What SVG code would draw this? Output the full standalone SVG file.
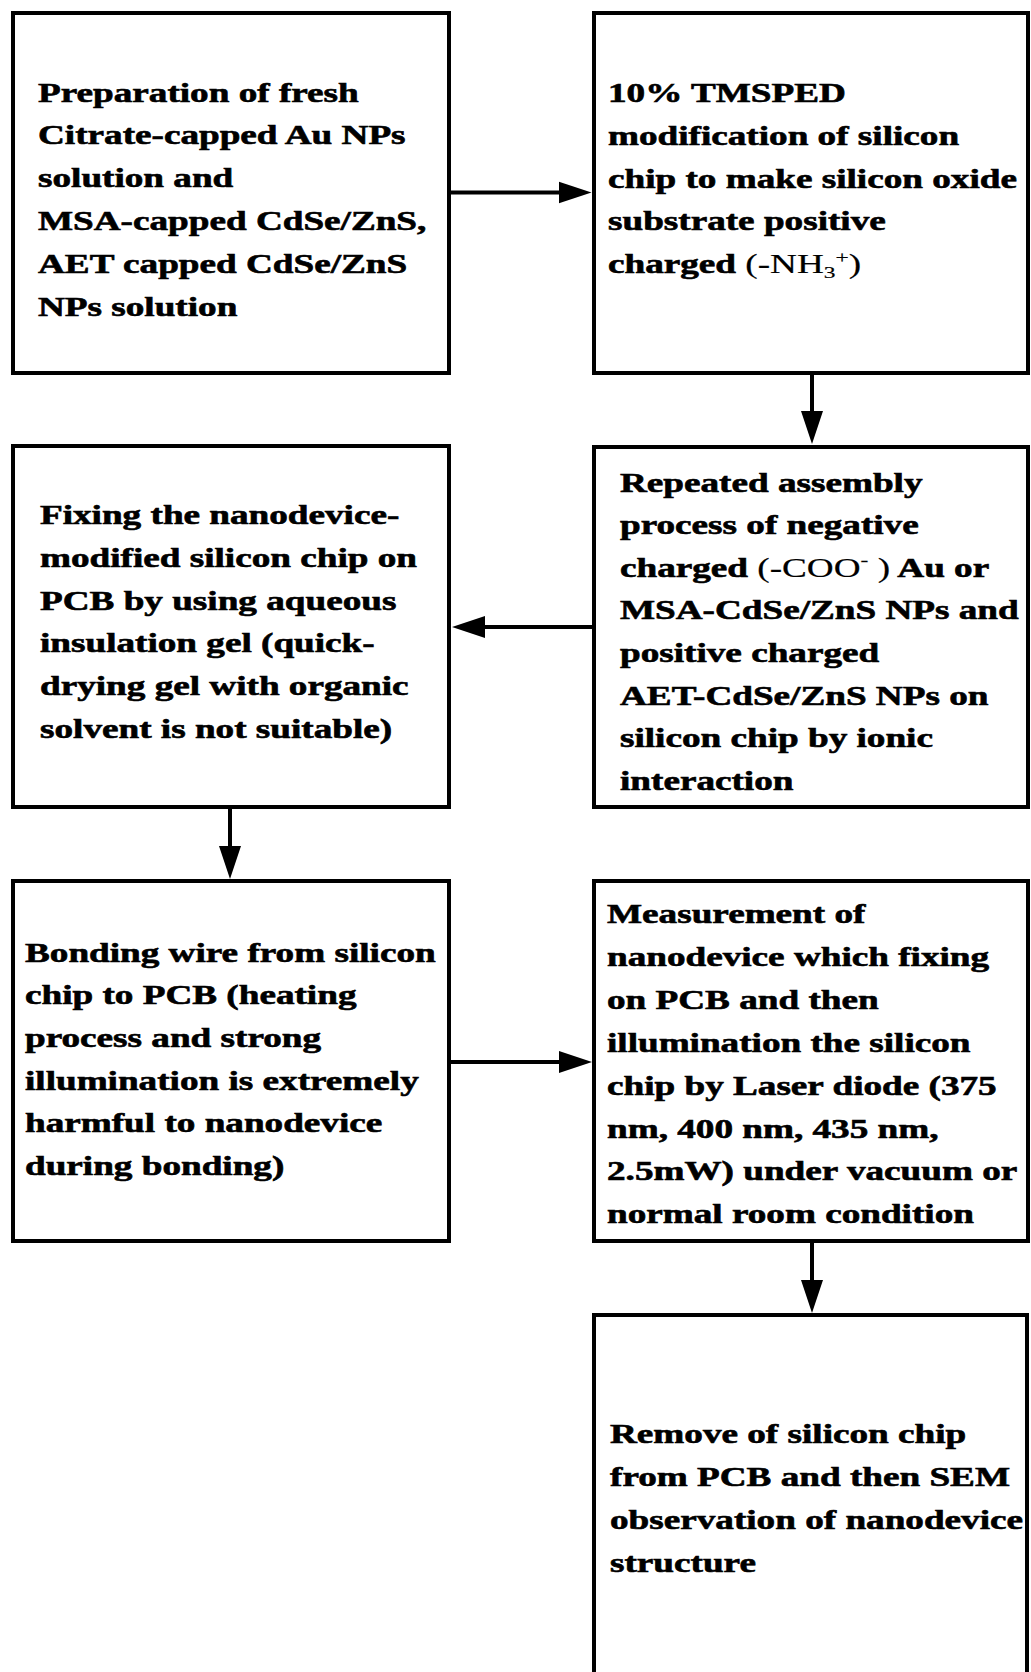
<svg xmlns="http://www.w3.org/2000/svg" width="1031" height="1672" viewBox="0 0 1031 1672">
<style>
.box{fill:#fff;stroke:#000;stroke-width:4}
.lbl{font-family:"Liberation Serif","Times New Roman",serif;font-weight:bold;font-size:27px;fill:#000;stroke:#000;stroke-width:0.6}
.reg{font-weight:normal;stroke-width:0.2}
.conn{stroke:#000;stroke-width:4;fill:none}
</style>
<defs>
<marker id="ah" markerUnits="userSpaceOnUse" markerWidth="34" markerHeight="24" refX="13" refY="11" orient="auto" viewBox="0 0 34 22">
<path d="M0,0 L33,11 L0,22 z" fill="#000"/>
</marker>
</defs>
<rect width="1031" height="1672" fill="#fff"/>

<g id="node1">
<rect class="box" x="13" y="13" width="436" height="360"/>
<text class="lbl" transform="translate(38,0) scale(1.377,1)">
<tspan x="0" y="101.7">Preparation of fresh</tspan>
<tspan x="0" y="144.5">Citrate-capped Au NPs</tspan>
<tspan x="0" y="187.3">solution and</tspan>
<tspan x="0" y="230.1">MSA-capped CdSe/ZnS,</tspan>
<tspan x="0" y="272.9">AET capped CdSe/ZnS</tspan>
<tspan x="0" y="315.7">NPs solution</tspan>
</text>
</g>

<g id="node2">
<rect class="box" x="594" y="13" width="434" height="360"/>
<text class="lbl" transform="translate(608,0) scale(1.377,1)">
<tspan x="0" y="102">10% TMSPED</tspan>
<tspan x="0" y="144.8">modification of silicon</tspan>
<tspan x="0" y="187.6">chip to make silicon oxide</tspan>
<tspan x="0" y="230.4">substrate positive</tspan>
<tspan x="0" y="273.2">charged <tspan class="reg">(-NH<tspan font-size="17" dy="5">3</tspan><tspan font-size="17" dy="-15">+</tspan><tspan dy="10">)</tspan></tspan></tspan>
</text>
</g>

<g id="node3">
<rect class="box" x="13" y="446" width="436" height="361"/>
<text class="lbl" transform="translate(40,0) scale(1.377,1)">
<tspan x="0" y="524">Fixing the nanodevice-</tspan>
<tspan x="0" y="566.8">modified silicon chip on</tspan>
<tspan x="0" y="609.6">PCB by using aqueous</tspan>
<tspan x="0" y="652.4">insulation gel (quick-</tspan>
<tspan x="0" y="695.2">drying gel with organic</tspan>
<tspan x="0" y="738">solvent is not suitable)</tspan>
</text>
</g>

<g id="node4">
<rect class="box" x="594" y="447" width="434" height="360"/>
<text class="lbl" transform="translate(620,0) scale(1.377,1)">
<tspan x="0" y="491.7">Repeated assembly</tspan>
<tspan x="0" y="534.3">process of negative</tspan>
<tspan x="0" y="576.9">charged <tspan class="reg">(-COO<tspan font-size="17" dy="-11">-</tspan><tspan dy="11"> )</tspan></tspan> Au or</tspan>
<tspan x="0" y="619.5">MSA-CdSe/ZnS NPs and</tspan>
<tspan x="0" y="662.1">positive charged</tspan>
<tspan x="0" y="704.7">AET-CdSe/ZnS NPs on</tspan>
<tspan x="0" y="747.3">silicon chip by ionic</tspan>
<tspan x="0" y="790">interaction</tspan>
</text>
</g>

<g id="node5">
<rect class="box" x="13" y="881" width="436" height="360"/>
<text class="lbl" transform="translate(25,0) scale(1.377,1)">
<tspan x="0" y="961.7">Bonding wire from silicon</tspan>
<tspan x="0" y="1004.4">chip to PCB (heating</tspan>
<tspan x="0" y="1047">process and strong</tspan>
<tspan x="0" y="1089.7">illumination is extremely</tspan>
<tspan x="0" y="1132.3">harmful to nanodevice</tspan>
<tspan x="0" y="1175">during bonding)</tspan>
</text>
</g>

<g id="node6">
<rect class="box" x="594" y="881" width="434" height="360"/>
<text class="lbl" transform="translate(607,0) scale(1.377,1)">
<tspan x="0" y="923.3">Measurement of</tspan>
<tspan x="0" y="966.2">nanodevice which fixing</tspan>
<tspan x="0" y="1009">on PCB and then</tspan>
<tspan x="0" y="1051.9">illumination the silicon</tspan>
<tspan x="0" y="1094.7">chip by Laser diode (375</tspan>
<tspan x="0" y="1137.6">nm, 400 nm, 435 nm,</tspan>
<tspan x="0" y="1180.4">2.5mW) under vacuum or</tspan>
<tspan x="0" y="1223.3">normal room condition</tspan>
</text>
</g>

<g id="node7">
<rect class="box" x="594" y="1315" width="433" height="400"/>
<text class="lbl" transform="translate(610,0) scale(1.377,1)">
<tspan x="0" y="1443.3">Remove of silicon chip</tspan>
<tspan x="0" y="1486.1">from PCB and then SEM</tspan>
<tspan x="0" y="1528.9">observation of nanodevice</tspan>
<tspan x="0" y="1571.7">structure</tspan>
</text>
</g>

<g id="connectors">
<line class="conn" x1="449" y1="192.5" x2="571.5" y2="192.5" marker-end="url(#ah)"/>
<line class="conn" x1="812" y1="373" x2="812" y2="424" marker-end="url(#ah)"/>
<line class="conn" x1="594" y1="627" x2="472" y2="627" marker-end="url(#ah)"/>
<line class="conn" x1="230" y1="807" x2="230" y2="859" marker-end="url(#ah)"/>
<line class="conn" x1="449" y1="1062" x2="572" y2="1062" marker-end="url(#ah)"/>
<line class="conn" x1="812" y1="1241" x2="812" y2="1293" marker-end="url(#ah)"/>
</g>
</svg>
